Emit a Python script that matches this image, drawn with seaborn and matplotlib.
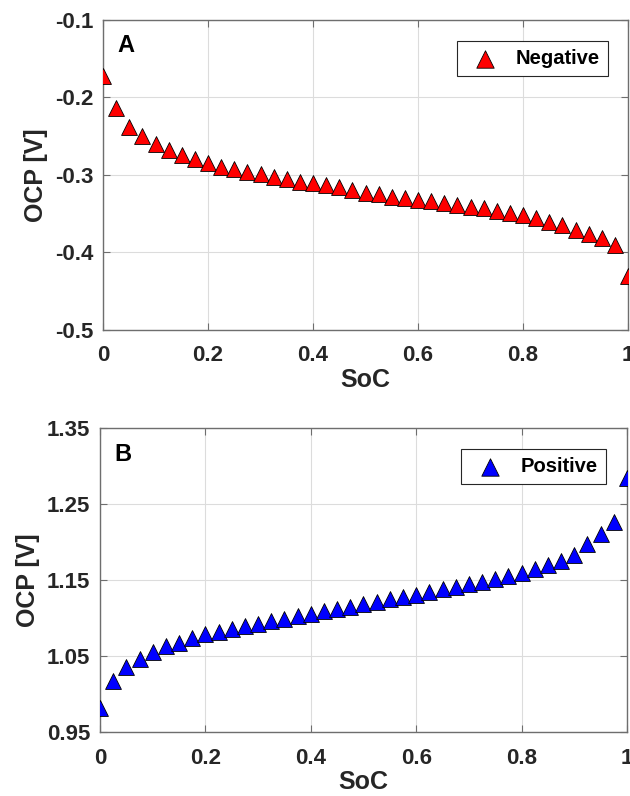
import numpy as np
import pandas as pd
import matplotlib
matplotlib.use("Agg")
import matplotlib.pyplot as plt
import seaborn as sns

# state of charge grid (41 points)
soc = [round(i * 0.025, 3) for i in range(41)]

ocp_neg = [-0.173, -0.214, -0.238, -0.250, -0.260, -0.268, -0.275, -0.280, -0.285, -0.290,
           -0.293, -0.296, -0.299, -0.303, -0.306, -0.309, -0.311, -0.313, -0.316, -0.319,
           -0.323, -0.325, -0.328, -0.330, -0.333, -0.334, -0.336, -0.339, -0.341, -0.343,
           -0.346, -0.349, -0.352, -0.356, -0.361, -0.365, -0.371, -0.376, -0.381, -0.391,
           -0.431]

ocp_pos = [0.982, 1.017, 1.036, 1.047, 1.056, 1.063, 1.068, 1.074, 1.079, 1.082,
           1.086, 1.090, 1.093, 1.096, 1.099, 1.103, 1.105, 1.109, 1.112, 1.115,
           1.119, 1.122, 1.125, 1.128, 1.131, 1.135, 1.138, 1.141, 1.145, 1.148,
           1.152, 1.156, 1.160, 1.165, 1.170, 1.176, 1.183, 1.198, 1.211, 1.227,
           1.285]

sns.set_style("whitegrid")
plt.rcParams["font.family"] = ["Liberation Sans", "DejaVu Sans"]
plt.rcParams["font.weight"] = "bold"

ink = "#262626"
spine_col = "#6e6e6e"

fig = plt.figure(figsize=(6.3, 7.96), dpi=100)
ax_a = fig.add_axes([0.1635, 0.5854, 0.8335, 0.390])
ax_b = fig.add_axes([0.1587, 0.080, 0.8365, 0.382])


def draw_panel(ax, y, color, label, letter, ylim, yticks, yfmt, legend_anchor, letter_y):
    df = pd.DataFrame({"SoC": soc, "OCP": y})
    sns.scatterplot(data=df, x="SoC", y="OCP", ax=ax, marker="^", s=130,
                    color=color, edgecolor="black", linewidth=0.6, label=label,
                    zorder=3)
    ax.set_xlim(0, 1)
    ax.set_ylim(*ylim)
    ax.set_xticks([0, 0.2, 0.4, 0.6, 0.8, 1])
    ax.set_xticklabels(["0", "0.2", "0.4", "0.6", "0.8", "1"])
    ax.set_yticks(yticks)
    ax.set_yticklabels([yfmt.format(v) for v in yticks])
    ax.grid(True, color="#dcdcdc", linewidth=0.8)
    for s in ax.spines.values():
        s.set_visible(True)
        s.set_color(spine_col)
        s.set_linewidth(1.0)
    ax.tick_params(direction="in", length=5, width=0.8, color=spine_col,
                   labelsize=16, labelcolor=ink, top=True, right=True,
                   bottom=True, left=True)
    ax.tick_params(axis="x", pad=11)
    ax.tick_params(axis="y", pad=7)
    for t in ax.get_xticklabels() + ax.get_yticklabels():
        t.set_fontweight("bold")
    ax.set_xlabel("SoC", fontsize=18, fontweight="bold", color=ink, labelpad=1)
    ax.set_ylabel("OCP [V]", fontsize=18, fontweight="bold", color=ink, labelpad=5)
    ax.text(0.027, letter_y, letter, transform=ax.transAxes, fontsize=17,
            fontweight="bold", color="black", va="center", ha="left")
    leg = ax.legend(loc="upper right", bbox_to_anchor=legend_anchor, borderaxespad=0,
                    fancybox=False, framealpha=1, edgecolor=ink,
                    prop={"size": 14.5, "weight": "bold"}, handletextpad=0.55,
                    borderpad=0.4, markerscale=1.1)
    leg.get_frame().set_linewidth(0.8)
    for t in leg.get_texts():
        t.set_color("black")


draw_panel(ax_a, ocp_neg, "#ff0000", "Negative", "A", (-0.5, -0.1),
           [-0.5, -0.4, -0.3, -0.2, -0.1], "{:.1f}", (0.962, 0.931), 0.915)
draw_panel(ax_b, ocp_pos, "#0000ff", "Positive", "B", (0.95, 1.35),
           [0.95, 1.05, 1.15, 1.25, 1.35], "{:.2f}", (0.960, 0.932), 0.915)

fig.savefig("out.png", dpi=100)
